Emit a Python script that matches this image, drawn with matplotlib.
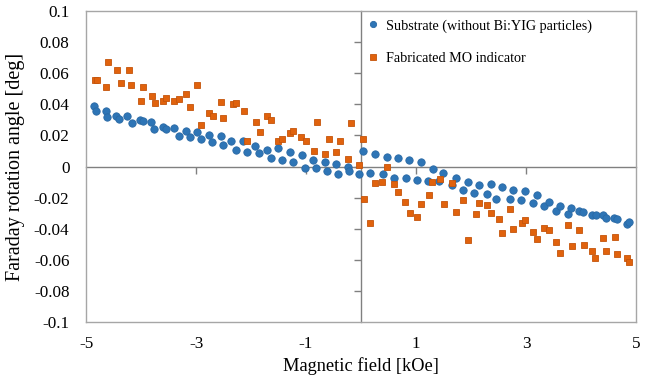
import matplotlib.pyplot as plt

plt.rcParams['font.family'] = ['Liberation Serif', 'DejaVu Serif']
plt.rcParams['axes.unicode_minus'] = False

# substrate only (blue)
field_sub = [-4.855, -4.818, -4.636, -4.613, -4.449, -4.395, -4.249, -4.169, -4.018, -3.958,
             -3.818, -3.769, -3.605, -3.545, -3.400, -3.315, -3.176, -3.109, -2.976, -2.915,
             -2.758, -2.704, -2.551, -2.504, -2.358, -2.273, -2.140, -2.078, -1.922, -1.860,
             -1.704, -1.642, -1.509, -1.436, -1.296, -1.231, -1.078, -1.024, -0.867, -0.818,
             -0.660, -0.624, -0.455, -0.418, -0.236, -0.213, -0.031, 0.042, 0.169, 0.255,
             0.395, 0.467, 0.600, 0.667, 0.813, 0.873, 1.018, 1.096, 1.224, 1.304,
             1.418, 1.496, 1.649, 1.722, 1.860, 1.940, 2.060, 2.145, 2.285, 2.358,
             2.460, 2.569, 2.709, 2.769, 2.915, 2.976, 3.122, 3.205, 3.327, 3.413,
             3.551, 3.618, 3.764, 3.818, 3.958, 4.042, 4.205, 4.273, 4.395, 4.460,
             4.600, 4.660, 4.831, 4.878]
angle_sub = [0.0386, 0.0356, 0.0356, 0.0317, 0.0326, 0.0307, 0.0322, 0.0278, 0.0300, 0.0291,
             0.0283, 0.0240, 0.0257, 0.0240, 0.0249, 0.0199, 0.0227, 0.0188, 0.0219, 0.0180,
             0.0201, 0.0159, 0.0193, 0.0137, 0.0167, 0.0109, 0.0163, 0.0096, 0.0135, 0.0084,
             0.0107, 0.0053, 0.0118, 0.0045, 0.0095, 0.0028, 0.0071, -0.0008, 0.0043, -0.0008,
             0.0032, -0.0032, 0.0019, -0.0045, 0.0000, -0.0028, -0.0047, 0.0098, -0.0041, 0.0082,
             -0.0047, 0.0064, -0.0073, 0.0053, -0.0077, 0.0043, -0.0086, 0.0026, -0.0095, -0.0015,
             -0.0095, -0.0039, -0.0120, -0.0071, -0.0154, -0.0101, -0.0172, -0.0118, -0.0176, -0.0114,
             -0.0208, -0.0133, -0.0206, -0.0150, -0.0214, -0.0159, -0.0233, -0.0180, -0.0257, -0.0227,
             -0.0283, -0.0253, -0.0304, -0.0266, -0.0289, -0.0294, -0.0311, -0.0311, -0.0313, -0.0330,
             -0.0332, -0.0336, -0.0368, -0.0354]

# fabricated MO indicator (orange)
field_mo = [-4.836, -4.795, -4.636, -4.600, -4.436, -4.369, -4.224, -4.176, -4.005, -3.958,
            -3.795, -3.745, -3.600, -3.540, -3.400, -3.309, -3.176, -3.104, -2.976, -2.915,
            -2.764, -2.691, -2.551, -2.504, -2.333, -2.273, -2.133, -2.067, -1.915, -1.836,
            -1.709, -1.631, -1.504, -1.431, -1.291, -1.231, -1.091, -1.005, -0.860, -0.805,
            -0.660, -0.587, -0.449, -0.382, -0.242, -0.176, -0.031, 0.031, 0.060, 0.169,
            0.260, 0.387, 0.467, 0.605, 0.667, 0.800, 0.891, 1.024, 1.091, 1.231,
            1.296, 1.442, 1.509, 1.660, 1.733, 1.860, 1.940, 2.085, 2.145, 2.285,
            2.358, 2.504, 2.564, 2.709, 2.769, 2.922, 2.987, 3.122, 3.205, 3.333,
            3.413, 3.545, 3.613, 3.764, 3.836, 3.969, 4.049, 4.200, 4.249, 4.405,
            4.455, 4.624, 4.660, 4.831, 4.878]
angle_mo = [0.0553, 0.0558, 0.0513, 0.0669, 0.0622, 0.0536, 0.0622, 0.0523, 0.0422, 0.0508,
            0.0455, 0.0407, 0.0422, 0.0442, 0.0422, 0.0437, 0.0463, 0.0381, 0.0527, 0.0264,
            0.0347, 0.0322, 0.0416, 0.0309, 0.0399, 0.0407, 0.0360, 0.0161, 0.0285, 0.0223,
            0.0322, 0.0300, 0.0165, 0.0178, 0.0217, 0.0227, 0.0191, 0.0167, 0.0101, 0.0285,
            0.0079, 0.0178, 0.0092, 0.0163, 0.0047, 0.0281, 0.0008, 0.0178, -0.0208, -0.0362,
            -0.0105, -0.0101, -0.0005, -0.0111, -0.0163, -0.0225, -0.0296, -0.0322, -0.0238, -0.0180,
            -0.0101, -0.0079, -0.0244, -0.0107, -0.0291, -0.0214, -0.0471, -0.0304, -0.0236, -0.0249,
            -0.0296, -0.0336, -0.0429, -0.0270, -0.0401, -0.0362, -0.0343, -0.0424, -0.0468, -0.0394,
            -0.0407, -0.0484, -0.0553, -0.0373, -0.0514, -0.0405, -0.0506, -0.0542, -0.0587, -0.0459,
            -0.0545, -0.0455, -0.0564, -0.0587, -0.0615]

xticks = [-5, -3, -1, 1, 3, 5]
yticks = [-0.1, -0.08, -0.06, -0.04, -0.02, 0, 0.02, 0.04, 0.06, 0.08, 0.1]
ytick_labels = ['-0.1', '-0.08', '-0.06', '-0.04', '-0.02', '0',
                '0.02', '0.04', '0.06', '0.08', '0.1']

fig = plt.figure(figsize=(6.47, 3.78), dpi=100)
rect = [0.133, 0.148, 0.850, 0.823]
ax = fig.add_axes(rect)
ax.set_xlim(-5, 5)
ax.set_ylim(-0.1, 0.1)

ax.plot(field_sub, angle_sub, 'o', ls='none', ms=5.3, color='#2E75B6',
        mec='#2A69A4', mew=0.6, label='Substrate (without Bi:YIG particles)', zorder=3)
ax.plot(field_mo, angle_mo, 's', ls='none', ms=5.0, color='#E0620D',
        mec='#C5540B', mew=0.6, label='Fabricated MO indicator', zorder=3)

ax.set_xticks(xticks)
ax.set_xticklabels([str(t) for t in xticks])
ax.set_yticks(yticks)
ax.set_yticklabels(ytick_labels)
ax.tick_params(length=0, labelsize=12.3, pad=10)
ax.tick_params(axis='y', pad=12)
for s in ax.spines.values():
    s.set_color('#a6a6a6')
    s.set_linewidth(1.0)

ax.set_xlabel('Magnetic field [kOe]', fontsize=13.2, labelpad=4)
ax.set_ylabel('Faraday rotation angle [deg]', fontsize=14.5, labelpad=6)

# axes crossing at zero with tick marks (Excel style)
ax2 = fig.add_axes(rect, facecolor='none')
ax2.set_xlim(-5, 5)
ax2.set_ylim(-0.1, 0.1)
ax2.set_xticks([-3, -1, 1, 3])
ax2.set_yticks(yticks[1:-1])
ax2.spines['left'].set_position(('data', 0))
ax2.spines['bottom'].set_position(('data', 0))
ax2.spines['top'].set_visible(False)
ax2.spines['right'].set_visible(False)
for s in ['left', 'bottom']:
    ax2.spines[s].set_color('#808080')
    ax2.spines[s].set_linewidth(1.0)
ax2.tick_params(direction='out', length=5, width=1.0, color='#808080',
                labelleft=False, labelbottom=False)
ax2.set_zorder(0)
ax.set_zorder(1)
ax.patch.set_alpha(0)

ax.legend(loc='upper left', bbox_to_anchor=(0.511, 0.974), frameon=False,
          fontsize=10.2, handlelength=0.8, handletextpad=0.52, labelspacing=1.4,
          borderaxespad=0, borderpad=0, markerscale=0.85)

fig.savefig('out.png', dpi=100)
